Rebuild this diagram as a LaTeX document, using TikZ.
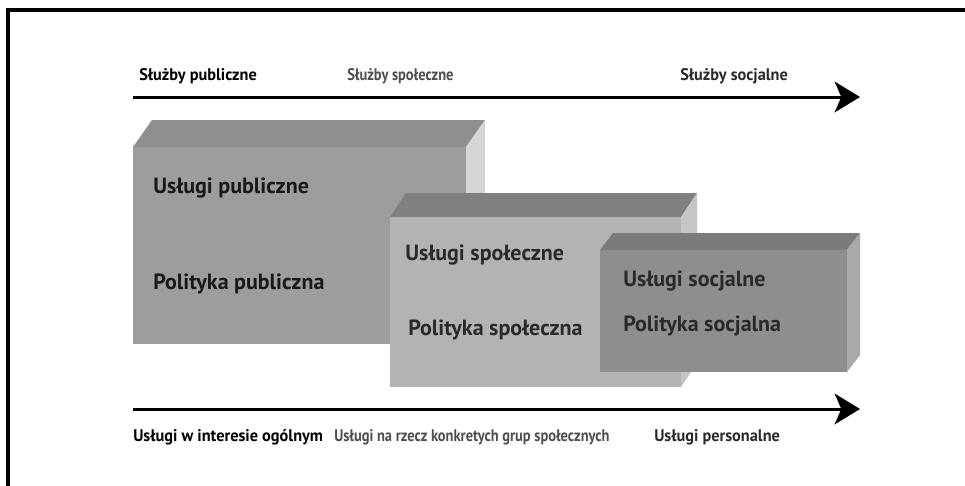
\documentclass[tikz,border=0pt]{standalone}
\usepackage{fontspec}
\setmainfont{PT Sans}
\newfontfamily\narrowfont{PT Sans}[FakeStretch=0.97]
\newfontfamily\narrowerfont{PT Sans}[FakeStretch=0.86]
\usetikzlibrary{arrows.meta}
\definecolor{frontA}{HTML}{9D9D9D}
\definecolor{topA}{HTML}{8F8F8F}
\definecolor{sideA}{HTML}{D5D5D5}
\definecolor{frontB}{HTML}{B3B3B3}
\definecolor{topB}{HTML}{808080}
\definecolor{sideB}{HTML}{C5C5C5}
\definecolor{frontC}{HTML}{8E8E8E}
\definecolor{topC}{HTML}{7B7B7B}
\definecolor{sideC}{HTML}{A9A9A9}
\definecolor{txtmid}{HTML}{4E4E4E}
\definecolor{txtdark}{HTML}{2A2A2A}

\begin{document}
\begin{tikzpicture}[x=0.75pt, y=-0.75pt,
  axislabel/.style={anchor=west, inner sep=0pt, font=\narrowfont\bfseries\fontsize{12.6}{14}\selectfont},
  midlabel/.style={axislabel, txtmid, font=\narrowerfont\bfseries\fontsize{12.6}{14}\selectfont},
  boxlabel/.style={anchor=west, inner sep=0pt, font=\bfseries\fontsize{16.5}{19}\selectfont},
  axis/.style={line width=2.25pt, -{Stealth[length=19pt, width=23pt, inset=5pt]}}]
\useasboundingbox (0,0) rectangle (965,486);
% frame
\draw [line width=2.4pt] (965,10) -- (8,10) -- (8,486);

% top axis
\coordinate (topstart) at (133,97);
\coordinate (topend) at (860,97);
\draw [axis] (topstart) -- (topend);
\node [axislabel] (sluzbyPub) at (139,76) {Służby publiczne};
\node [midlabel] (sluzbySpol) at (347,76) {Służby społeczne};
\node [axislabel, txtdark] (sluzbySoc) at (680,76) {Służby socjalne};

% public box
\fill [topA] (133,147) -- (152,120) -- (485,120) -- (466,147) -- cycle;
\fill [sideA] (466,147) -- (485,120) -- (485,317) -- (466,344) -- cycle;
\fill [frontA] (133,147) rectangle (466,344);
\node [boxlabel, black!90] (uslPub) at (153,188) {Usługi publiczne};
\node [boxlabel, black!90] (polPub) at (153,284) {Polityka publiczna};

% social box
\fill [topB] (390,217) -- (406,193) -- (697,193) -- (681,217) -- cycle;
\fill [sideB] (681,217) -- (697,193) -- (697,363) -- (681,387) -- cycle;
\fill [frontB] (390,217) rectangle (681,387);
\node [boxlabel, txtdark] (uslSpol) at (405,255) {Usługi społeczne};
\node [boxlabel, txtdark] (polSpol) at (408,330) {Polityka społeczna};

% welfare box
\fill [topC] (600,250) -- (613,233) -- (860,233) -- (847,250) -- cycle;
\fill [sideC] (847,250) -- (860,233) -- (860,355) -- (847,372) -- cycle;
\fill [frontC] (600,250) rectangle (847,372);
\node [boxlabel, txtdark] (uslSoc) at (623,281) {Usługi socjalne};
\node [boxlabel, txtdark] (polSoc) at (623,326) {Polityka socjalna};

% bottom axis
\coordinate (botstart) at (133,409);
\coordinate (botend) at (860,409);
\draw [axis] (botstart) -- (botend);
\node [axislabel] (uslOg) at (133,437) {Usługi w interesie ogólnym};
\node [midlabel] (uslGrup) at (334,437) {Usługi na rzecz konkretych grup społecznych};
\node [axislabel, txtdark] (uslPers) at (654,437) {Usługi personalne};
\end{tikzpicture}
\end{document}
